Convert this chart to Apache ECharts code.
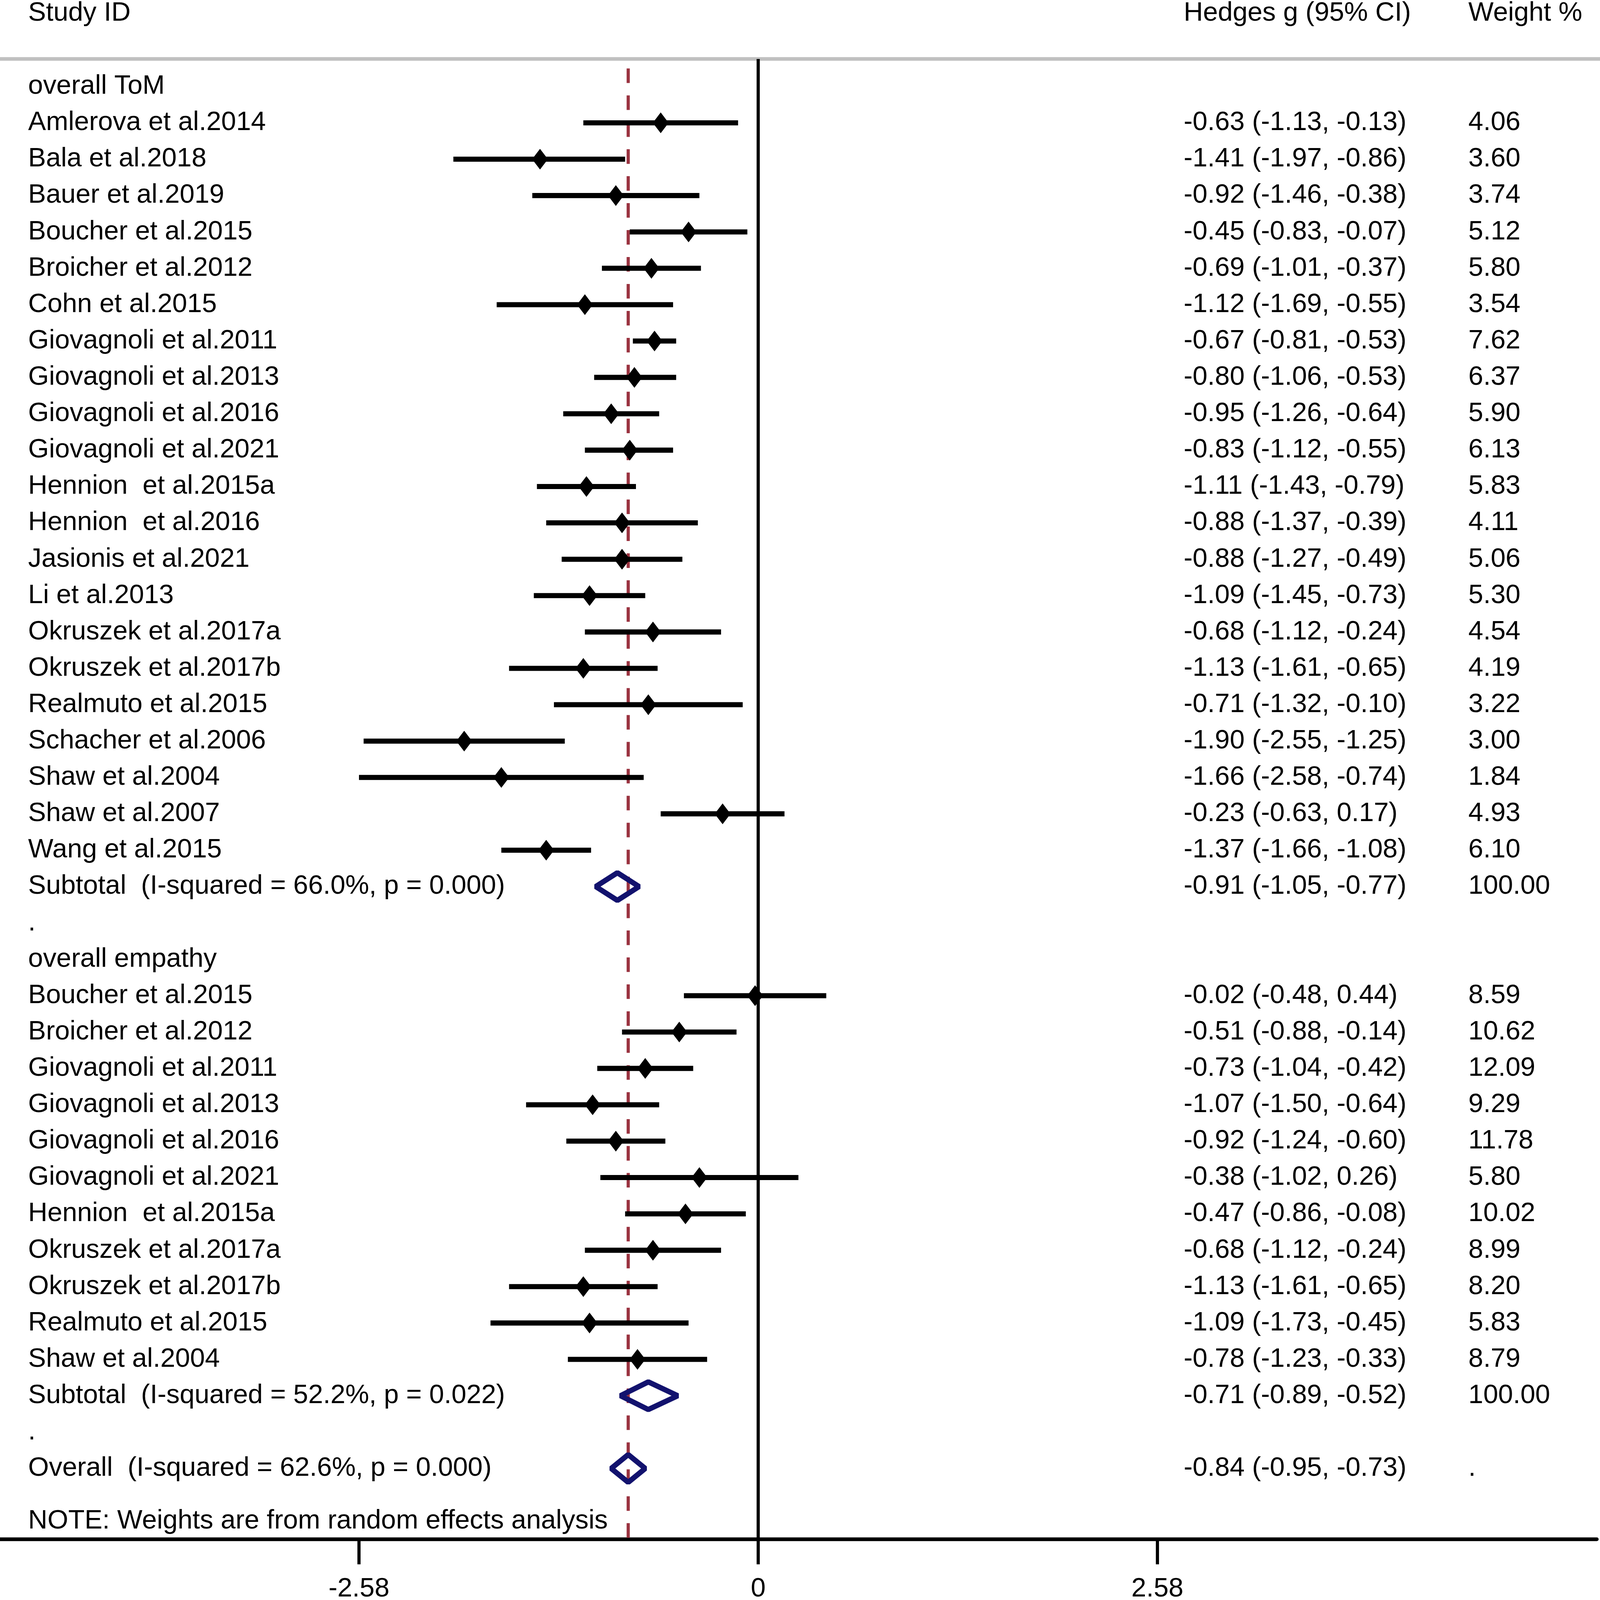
<!DOCTYPE html>
<html>
<head>
<meta charset="utf-8">
<script src="https://cdn.jsdelivr.net/npm/echarts@6.0.0/dist/echarts.min.js"></script>
<style>
  html, body { margin: 0; padding: 0; background: #fff; overflow: hidden; }
  #chart { width: 100vw; height: 100vh; }
</style>
</head>
<body>
<div id="chart"></div>
<script>
// ---- data ----
var tomStudies = ['Amlerova et al.2014', 'Bala et al.2018', 'Bauer et al.2019', 'Boucher et al.2015',
    'Broicher et al.2012', 'Cohn et al.2015', 'Giovagnoli et al.2011', 'Giovagnoli et al.2013',
    'Giovagnoli et al.2016', 'Giovagnoli et al.2021', 'Hennion  et al.2015a', 'Hennion  et al.2016',
    'Jasionis et al.2021', 'Li et al.2013', 'Okruszek et al.2017a', 'Okruszek et al.2017b',
    'Realmuto et al.2015', 'Schacher et al.2006', 'Shaw et al.2004', 'Shaw et al.2007', 'Wang et al.2015'];
var tomES = [-0.63, -1.41, -0.92, -0.45, -0.69, -1.12, -0.67, -0.80, -0.95, -0.83, -1.11, -0.88,
    -0.88, -1.09, -0.68, -1.13, -0.71, -1.90, -1.66, -0.23, -1.37];
var tomLo = [-1.13, -1.97, -1.46, -0.83, -1.01, -1.69, -0.81, -1.06, -1.26, -1.12, -1.43, -1.37,
    -1.27, -1.45, -1.12, -1.61, -1.32, -2.55, -2.58, -0.63, -1.66];
var tomHi = [-0.13, -0.86, -0.38, -0.07, -0.37, -0.55, -0.53, -0.53, -0.64, -0.55, -0.79, -0.39,
    -0.49, -0.73, -0.24, -0.65, -0.10, -1.25, -0.74, 0.17, -1.08];
var tomWeight = ['4.06', '3.60', '3.74', '5.12', '5.80', '3.54', '7.62', '6.37', '5.90', '6.13', '5.83',
    '4.11', '5.06', '5.30', '4.54', '4.19', '3.22', '3.00', '1.84', '4.93', '6.10'];

var empStudies = ['Boucher et al.2015', 'Broicher et al.2012', 'Giovagnoli et al.2011', 'Giovagnoli et al.2013',
    'Giovagnoli et al.2016', 'Giovagnoli et al.2021', 'Hennion  et al.2015a', 'Okruszek et al.2017a',
    'Okruszek et al.2017b', 'Realmuto et al.2015', 'Shaw et al.2004'];
var empES = [-0.02, -0.51, -0.73, -1.07, -0.92, -0.38, -0.47, -0.68, -1.13, -1.09, -0.78];
var empLo = [-0.48, -0.88, -1.04, -1.50, -1.24, -1.02, -0.86, -1.12, -1.61, -1.73, -1.23];
var empHi = [0.44, -0.14, -0.42, -0.64, -0.60, 0.26, -0.08, -0.24, -0.65, -0.45, -0.33];
var empWeight = ['8.59', '10.62', '12.09', '9.29', '11.78', '5.80', '10.02', '8.99', '8.20', '5.83', '8.79'];

var groupTitles = ['overall ToM', 'overall empathy'];
var pooledLabels = ['Subtotal  (I-squared = 66.0%, p = 0.000)', 'Subtotal  (I-squared = 52.2%, p = 0.022)',
    'Overall  (I-squared = 62.6%, p = 0.000)'];
var pooledES = [-0.91, -0.71, -0.84];
var pooledLo = [-1.05, -0.89, -0.95];
var pooledHi = [-0.77, -0.52, -0.73];
var pooledWeight = ['100.00', '100.00', '.'];

var headers = ['Study ID', 'Hedges g (95% CI)', 'Weight %'];
var note = 'NOTE: Weights are from random effects analysis';
var tickValues = [-2.58, 0, 2.58];

// ---- layout ----
// sizes below are given for a 4550 x 4395 page and scaled to the real window
var kx = window.innerWidth / 4550;
var ky = window.innerHeight / 4395;
var kf = Math.min(kx, ky);

var xMin = -4.9, xMax = 5.42;
var yMin = -2.377, yMax = 39.945;
var colStudy = -4.718, colCI = 2.75, colWeight = 4.59;
var headerRow = -2.012, ruleRow = -0.756, dashTop = -0.495;

var FONT = '"Liberation Sans", Arial, Helvetica, sans-serif';
var FONT_SIZE = 76 * kf;
var NAVY = '#12126e';
var MAROON = '#9a3340';

function fmt(v) { return v.toFixed(2); }
function ciText(es, lo, hi) { return fmt(es) + ' (' + fmt(lo) + ', ' + fmt(hi) + ')'; }

// build rows
var textItems = [];   // {x, row, text}
var ciData = [];      // [lo, hi, row]
var pointData = [];   // [es, row]
var pooledData = [];  // [es, lo, hi, row]

function addText(x, row, text) { textItems.push({ x: x, row: row, text: text }); }

addText(colStudy, headerRow, headers[0]);
addText(colCI, headerRow, headers[1]);
addText(colWeight, headerRow, headers[2]);

var groups = [
    { names: tomStudies, es: tomES, lo: tomLo, hi: tomHi, w: tomWeight },
    { names: empStudies, es: empES, lo: empLo, hi: empHi, w: empWeight }
];

var row = 0;
groups.forEach(function (g, gi) {
    addText(colStudy, row, groupTitles[gi]);
    row++;
    g.names.forEach(function (name, i) {
        addText(colStudy, row, name);
        addText(colCI, row, ciText(g.es[i], g.lo[i], g.hi[i]));
        addText(colWeight, row, g.w[i]);
        ciData.push([g.lo[i], g.hi[i], row]);
        pointData.push([g.es[i], row]);
        row++;
    });
    addText(colStudy, row, pooledLabels[gi]);
    addText(colCI, row, ciText(pooledES[gi], pooledLo[gi], pooledHi[gi]));
    addText(colWeight, row, pooledWeight[gi]);
    pooledData.push([pooledES[gi], pooledLo[gi], pooledHi[gi], row]);
    row++;
    addText(colStudy, row, '.');
    row++;
});
addText(colStudy, row, pooledLabels[2]);
addText(colCI, row, ciText(pooledES[2], pooledLo[2], pooledHi[2]));
addText(colWeight, row, pooledWeight[2]);
pooledData.push([pooledES[2], pooledLo[2], pooledHi[2], row]);
addText(colStudy, row + 1.45, note);

var chart = echarts.init(document.getElementById('chart'), null, { renderer: 'canvas' });

var option = {
    animation: false,
    backgroundColor: '#ffffff',
    grid: { left: 0, right: 9 * kx, top: 0, bottom: 167 * ky, containLabel: false, outerBoundsMode: 'none' },
    xAxis: {
        type: 'value',
        min: xMin,
        max: xMax,
        splitLine: { show: false },
        axisLine: { show: true, onZero: false, lineStyle: { color: '#000', width: 10 * ky } },
        axisTick: { show: true, customValues: tickValues, length: 69 * ky, lineStyle: { color: '#000', width: 9 * kx } },
        axisLabel: {
            show: true,
            customValues: tickValues,
            margin: 101 * ky,
            color: '#000',
            fontSize: FONT_SIZE,
            fontFamily: FONT,
            formatter: function (v) { return v === 0 ? '0' : v.toFixed(2); }
        }
    },
    yAxis: {
        type: 'value',
        inverse: true,
        min: yMin,
        max: yMax,
        show: false
    },
    series: [
        {
            // grey rule under the header
            type: 'custom',
            z: 1,
            data: [[ruleRow]],
            renderItem: function (params, api) {
                var a = api.coord([xMin, api.value(0)]);
                var b = api.coord([xMax, api.value(0)]);
                return { type: 'line', shape: { x1: 0, y1: a[1], x2: b[0] + 9 * kx, y2: b[1] },
                    style: { stroke: '#c0c0c0', lineWidth: 10 * ky } };
            }
        },
        {
            // no-effect line
            type: 'custom',
            z: 1,
            data: [[0, ruleRow]],
            renderItem: function (params, api) {
                var a = api.coord([api.value(0), api.value(1)]);
                var b = api.coord([api.value(0), yMax]);
                return { type: 'line', shape: { x1: a[0], y1: a[1], x2: b[0], y2: b[1] },
                    style: { stroke: '#000', lineWidth: 9 * kx } };
            }
        },
        {
            // overall effect line
            type: 'custom',
            z: 1,
            data: [[pooledES[2], dashTop]],
            renderItem: function (params, api) {
                var a = api.coord([api.value(0), api.value(1)]);
                var b = api.coord([api.value(0), yMax]);
                return { type: 'line', shape: { x1: a[0], y1: a[1], x2: b[0], y2: b[1] },
                    style: { stroke: MAROON, lineWidth: 9 * kx, lineDash: [40 * ky, 34 * ky] } };
            }
        },
        {
            // confidence intervals
            type: 'custom',
            z: 2,
            data: ciData,
            encode: { x: [0, 1], y: 2 },
            renderItem: function (params, api) {
                var a = api.coord([api.value(0), api.value(2)]);
                var b = api.coord([api.value(1), api.value(2)]);
                return { type: 'line', shape: { x1: a[0], y1: a[1], x2: b[0], y2: b[1] },
                    style: { stroke: '#000', lineWidth: 14 * ky, lineCap: 'butt' } };
            }
        },
        {
            // point estimates
            type: 'scatter',
            z: 3,
            symbol: 'diamond',
            symbolSize: [45 * kx, 57 * ky],
            itemStyle: { color: '#000', opacity: 1 },
            data: pointData
        },
        {
            // pooled estimates
            type: 'custom',
            z: 4,
            data: pooledData,
            encode: { x: [0, 1, 2], y: 3 },
            renderItem: function (params, api) {
                var c = api.coord([api.value(0), api.value(3)]);
                var l = api.coord([api.value(1), api.value(3)]);
                var r = api.coord([api.value(2), api.value(3)]);
                var h = 38 * ky;
                return {
                    type: 'polygon',
                    shape: { points: [[l[0], c[1]], [c[0], c[1] - h], [r[0], c[1]], [c[0], c[1] + h]] },
                    style: { fill: null, stroke: NAVY, lineWidth: 15 * kf, lineJoin: 'bevel' }
                };
            }
        },
        {
            // text columns
            type: 'custom',
            z: 5,
            data: textItems.map(function (t) { return [t.x, t.row]; }),
            renderItem: function (params, api) {
                var p = api.coord([api.value(0), api.value(1)]);
                return {
                    type: 'text',
                    x: p[0],
                    y: p[1],
                    style: {
                        text: textItems[params.dataIndex].text,
                        fill: '#000',
                        fontSize: FONT_SIZE,
                        fontFamily: FONT,
                        align: 'left',
                        verticalAlign: 'middle'
                    }
                };
            }
        }
    ]
};

chart.setOption(option);
</script>
</body>
</html>
